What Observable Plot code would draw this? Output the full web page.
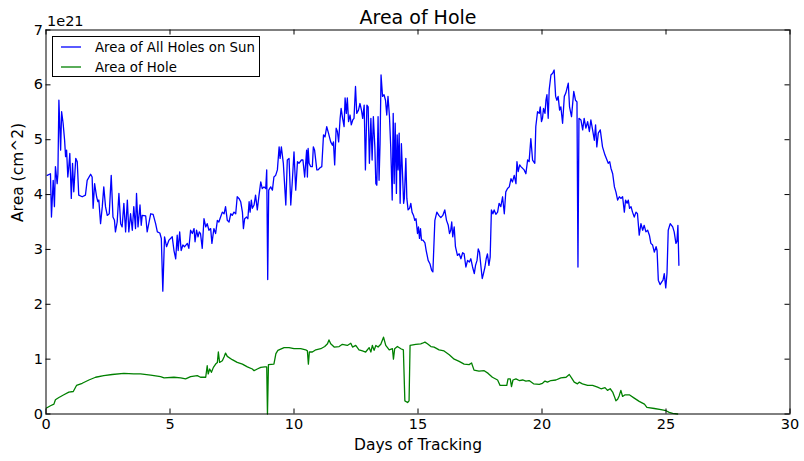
<!DOCTYPE html>
<html>
<head>
<meta charset="utf-8">
<script src="https://cdn.jsdelivr.net/npm/d3@7"></script>
<script src="https://cdn.jsdelivr.net/npm/@observablehq/plot@0.6"></script>
<style>
  html, body { margin: 0; padding: 0; background: #fff; }
  #chart { width: 804px; height: 461px; }
</style>
</head>
<body>
<div id="chart"></div>
<script>
// ---------- DATA (areas in units of 1e21 cm^2) ----------
const chartTitle = "Area of Hole";
const xLabel = "Days of Tracking";
const yLabel = "Area (cm^2)";
const yExponentLabel = "1e21";
const seriesNames = ["Area of All Holes on Sun", "Area of Hole"];
const seriesColors = ["#0000ff", "#008000"];
const xTicks = [0, 5, 10, 15, 20, 25, 30];
const yTicks = [0, 1, 2, 3, 4, 5, 6, 7];

// [day, area] for all holes on the sun
const allHolesSeries = [
[0.05,4.35],[0.18,4.38],[0.22,3.59],[0.29,4.26],[0.34,3.78],[0.38,4.51],[0.45,4.20],[0.48,4.38],[0.52,5.72],[0.59,4.81],
[0.63,5.51],[0.69,5.30],[0.75,4.99],[0.79,4.69],[0.83,4.81],[0.88,4.32],[0.92,4.51],[0.96,4.75],[1.02,3.93],[1.07,4.57],
[1.12,4.05],[1.20,4.66],[1.26,4.60],[1.32,3.99],[1.46,3.96],[1.59,3.99],[1.66,4.26],[1.80,4.37],[1.86,4.32],[1.90,3.75],
[1.96,4.20],[2.04,3.96],[2.09,3.87],[2.13,3.90],[2.20,3.47],[2.27,3.78],[2.33,4.14],[2.40,3.78],[2.47,3.62],[2.55,3.65],
[2.63,4.35],[2.70,3.59],[2.76,3.53],[2.80,3.32],[2.87,3.50],[2.94,4.02],[3.01,3.47],[3.07,3.41],[3.14,3.84],[3.21,3.32],
[3.28,3.90],[3.34,3.32],[3.41,3.65],[3.48,3.35],[3.54,3.78],[3.61,3.38],[3.65,4.02],[3.71,3.41],[3.79,3.81],[3.84,3.44],
[3.88,3.62],[4.02,3.61],[4.08,3.32],[4.22,3.65],[4.32,3.64],[4.42,3.47],[4.49,3.32],[4.59,3.30],[4.65,3.20],[4.71,2.24],
[4.78,3.23],[4.86,3.05],[4.96,3.17],[5.09,3.23],[5.16,2.98],[5.23,2.83],[5.29,3.26],[5.33,2.98],[5.39,3.32],[5.45,2.98],
[5.52,3.08],[5.59,3.05],[5.70,3.11],[5.76,3.02],[5.83,3.35],[5.90,3.29],[5.97,3.38],[6.01,3.14],[6.07,3.35],[6.13,3.23],
[6.18,3.32],[6.23,3.29],[6.30,3.02],[6.37,3.56],[6.44,3.41],[6.50,3.47],[6.57,3.35],[6.64,3.38],[6.69,3.11],[6.77,3.38],
[6.84,3.29],[6.91,3.53],[6.97,3.50],[7.04,3.59],[7.11,3.68],[7.18,3.65],[7.24,3.78],[7.31,3.53],[7.38,3.50],[7.45,3.65],
[7.51,3.62],[7.58,3.68],[7.65,3.65],[7.71,3.96],[7.78,3.93],[7.85,3.87],[7.92,3.68],[7.96,3.38],[8.01,3.56],[8.09,3.59],
[8.14,3.56],[8.19,3.87],[8.23,3.68],[8.28,3.90],[8.32,3.75],[8.39,3.81],[8.45,3.99],[8.52,3.72],[8.59,3.99],[8.66,4.23],
[8.72,4.11],[8.79,4.14],[8.86,4.11],[8.90,4.45],[8.94,2.45],[8.98,4.08],[9.06,4.14],[9.13,4.08],[9.19,4.32],[9.26,4.35],
[9.33,4.45],[9.40,4.87],[9.44,4.66],[9.49,4.87],[9.57,4.57],[9.67,3.81],[9.73,4.63],[9.80,4.66],[9.87,3.81],[9.93,4.23],
[10.00,4.78],[10.07,4.08],[10.14,4.60],[10.20,4.57],
[10.30,4.63],[10.36,4.63],[10.43,4.32],[10.51,4.81],[10.54,4.32],[10.57,4.84],[10.61,4.57],[10.67,4.51],[10.74,4.51],[10.78,4.87],
[10.83,4.81],[10.92,4.45],[10.97,4.45],[11.05,4.49],[11.12,4.51],[11.19,5.09],[11.25,5.05],[11.32,5.24],[11.39,5.12],[11.48,4.96],
[11.55,4.90],[11.59,4.96],[11.64,4.54],[11.70,5.21],[11.75,5.15],[11.80,4.96],[11.86,5.39],[11.90,5.57],[11.96,5.39],[12.02,5.24],
[12.06,5.76],[12.11,5.48],[12.15,5.76],[12.20,5.33],[12.26,5.45],[12.31,5.27],[12.37,5.36],[12.42,5.39],[12.48,5.97],[12.53,5.48],
[12.60,5.54],[12.66,5.66],[12.72,5.54],[12.77,5.39],[12.83,5.63],[12.88,4.45],[12.94,5.63],[12.99,5.60],[13.04,4.57],[13.10,5.39],
[13.15,4.63],[13.20,5.42],[13.26,4.87],[13.30,4.20],[13.34,4.17],[13.39,5.42],[13.43,4.26],[13.47,4.93],[13.51,6.18],[13.57,5.79],
[13.63,5.82],[13.69,5.72],[13.74,5.45],[13.79,5.79],[13.85,5.42],[13.90,4.87],[13.96,3.90],[14.00,5.48],[14.04,4.20],[14.08,5.30],
[14.13,4.02],[14.16,5.09],[14.20,4.45],[14.24,5.12],[14.28,3.84],[14.33,4.93],[14.37,4.45],[14.42,3.84],[14.45,3.93],[14.51,4.66],
[14.55,3.93],[14.60,3.72],[14.66,3.75],[14.71,3.84],[14.76,3.68],[14.82,3.62],[14.87,3.53],[14.92,3.56],[14.98,3.29],[15.02,3.41],
[15.06,3.20],[15.10,3.38],[15.14,3.17],[15.20,3.17],[15.28,3.12],[15.33,2.98],[15.41,2.80],[15.48,2.74],[15.55,2.62],[15.60,2.59],
[15.68,3.53],[15.76,3.68],[15.84,3.62],[15.92,3.58],[16.00,3.62],[16.08,3.72],[16.15,3.53],[16.22,3.44],[16.27,3.29],[16.32,3.35],
[16.36,3.50],[16.40,3.23],[16.46,3.41],[16.51,3.05],[16.59,2.89],[16.66,2.92],[16.73,2.83],[16.80,2.94],[16.86,2.92],[16.93,2.68],
[17.00,2.80],[17.07,2.77],[17.13,2.83],[17.20,2.68],[17.27,2.56],[17.32,2.71],[17.38,2.80],[17.43,3.01],[17.48,2.95],[17.54,2.68],
[17.59,2.47],[17.64,2.56],[17.70,2.68],[17.75,2.83],[17.80,2.92],[17.86,2.71],[17.91,2.86],[17.96,3.72],[18.02,3.65],[18.07,3.72],
[18.14,3.64],[18.21,3.68],[18.27,3.84],[18.34,3.78],[18.41,3.96],[18.48,3.65],[18.54,4.05],[18.61,4.11],[18.68,4.14],[18.75,4.29],
[18.81,4.23],[18.88,4.35],[18.95,4.20],[18.99,4.60],[19.04,4.42],[19.10,4.54],
[19.15,4.51],[19.28,4.45],[19.35,4.38],[19.42,4.63],[19.48,4.60],[19.55,5.02],[19.62,4.63],[19.71,4.57],[19.75,5.24],[19.82,5.51],
[19.89,5.48],[19.93,5.60],[19.98,5.33],[20.02,5.39],[20.06,5.57],[20.12,5.48],[20.16,5.72],[20.20,5.82],[20.25,5.39],[20.29,5.91],
[20.36,6.18],[20.43,6.21],[20.49,6.27],[20.55,5.79],[20.60,5.72],[20.65,5.79],[20.71,5.54],[20.76,5.60],[20.83,5.30],[20.90,5.79],
[20.96,5.85],[21.06,6.03],[21.11,5.60],[21.19,5.42],[21.28,5.88],[21.35,5.72],[21.41,5.69],[21.45,2.68],[21.49,5.39],[21.57,5.36],
[21.64,5.18],[21.70,5.39],[21.77,5.21],[21.84,5.33],[21.91,5.15],[21.97,5.36],[22.04,5.18],[22.11,4.99],[22.16,5.27],[22.21,4.87],
[22.27,5.12],[22.35,5.18],[22.44,4.87],[22.54,4.72],[22.62,4.63],[22.67,4.57],[22.73,4.60],[22.78,4.48],[22.85,4.38],[22.92,4.14],
[22.98,4.05],[23.05,3.90],[23.12,3.96],[23.18,3.93],[23.25,3.96],[23.32,3.68],[23.37,3.90],[23.43,3.84],[23.48,3.90],[23.53,3.75],
[23.59,3.78],[23.65,3.68],[23.72,3.59],[23.79,3.68],[23.85,3.65],[23.92,3.26],[23.99,3.47],[24.06,3.35],[24.12,3.44],[24.19,3.32],
[24.26,3.35],[24.33,3.26],[24.39,3.11],[24.46,3.08],[24.53,2.95],[24.60,3.05],[24.64,2.98],[24.69,2.44],[24.76,2.36],[24.83,2.41],
[24.88,2.44],[24.93,2.56],[24.99,2.30],[25.04,2.56],[25.09,3.35],[25.17,3.47],[25.27,3.41],[25.33,3.32],[25.40,3.11],[25.44,3.14],
[25.48,3.44],[25.52,2.71]
];

// [day, area] for the tracked hole
const trackedHoleSeries = [
[0.02,0.11],[0.18,0.15],[0.32,0.18],[0.38,0.26],[0.52,0.30],[0.72,0.35],[0.92,0.40],[1.10,0.41],[1.23,0.52],[1.46,0.56],
[1.73,0.62],[2.00,0.67],[2.33,0.70],[2.67,0.72],[3.14,0.74],[3.54,0.73],[3.81,0.73],[4.22,0.71],[4.62,0.68],[4.76,0.66],
[5.16,0.67],[5.43,0.66],[5.63,0.64],[5.83,0.68],[6.10,0.70],[6.23,0.67],[6.44,0.67],[6.50,0.88],[6.54,0.73],[6.60,0.82],
[6.67,0.76],[6.75,0.85],[6.84,0.91],[6.91,0.94],[6.95,1.13],[7.00,0.94],[7.11,0.97],[7.18,1.04],[7.24,1.11],[7.31,1.05],
[7.51,0.99],[7.71,0.94],[7.92,0.91],[8.12,0.86],[8.32,0.82],[8.39,0.79],[8.52,0.82],[8.66,0.85],[8.82,0.86],[8.90,0.86],
[8.93,0.00],[8.97,0.90],[9.19,0.91],[9.27,1.10],[9.35,1.16],[9.60,1.21],[9.80,1.21],[10.00,1.19],[10.27,1.19],[10.47,1.17],
[10.54,1.15],[10.58,0.91],[10.62,1.13],[10.74,1.13],[10.88,1.17],[11.08,1.19],[11.24,1.23],[11.35,1.28],[11.41,1.35],[11.48,1.28],
[11.62,1.22],[11.82,1.23],[11.95,1.27],[12.15,1.25],[12.29,1.29],[12.36,1.22],[12.49,1.25],[12.62,1.17],[12.76,1.15],[12.89,1.13],
[13.03,1.21],[13.10,1.13],[13.16,1.25],[13.23,1.16],[13.30,1.25],[13.39,1.22],[13.50,1.27],[13.61,1.40],[13.70,1.25],[13.84,1.17],
[13.97,1.19],[14.01,1.00],[14.06,1.19],[14.17,1.23],[14.31,1.19],[14.41,1.17],[14.47,0.24],[14.58,0.21],[14.64,0.24],[14.68,1.25],
[14.91,1.27],[15.11,1.28],[15.18,1.29],[15.28,1.31],[15.38,1.28],[15.52,1.23],[15.65,1.22],[15.85,1.17],[16.05,1.15],[16.26,1.08],
[16.46,1.00],[16.66,0.96],[16.86,0.91],[17.06,0.90],[17.16,0.93],[17.26,0.80],[17.46,0.78],[17.67,0.79],[17.83,0.74],[18.00,0.67],
[18.21,0.62],[18.31,0.52],[18.58,0.52],[18.63,0.64],[18.72,0.64],[18.77,0.50],[18.83,0.62],[18.95,0.64],[19.08,0.61],[19.22,0.62],
[19.35,0.60],[19.48,0.61],[19.66,0.55],[19.89,0.54],[20.02,0.56],[20.12,0.60],[20.22,0.58],[20.36,0.61],[20.56,0.62],[20.76,0.66],
[20.97,0.67],[21.10,0.72],[21.19,0.66],[21.30,0.58],[21.43,0.55],[21.50,0.58],[21.63,0.55],[21.84,0.52],[22.04,0.52],[22.24,0.49],
[22.38,0.46],[22.54,0.48],[22.64,0.43],[22.75,0.46],[22.85,0.40],[22.91,0.33],[22.98,0.24],[23.05,0.27],[23.11,0.33],[23.18,0.43],
[23.25,0.32],[23.35,0.35],[23.52,0.35],[23.72,0.29],[23.92,0.23],[24.13,0.18],[24.23,0.12],[24.53,0.10],[24.80,0.08],[25.00,0.06],
[25.13,0.03],[25.27,0.01],[25.47,0.00]
];

// ---------- CHART ----------
const W = 804, H = 461;
const mTop = 29.5, mRight = 14.5, mBottom = 47.5, mLeft = 45.5;
const plotW = W - mLeft - mRight, plotH = H - mTop - mBottom;
const tickLen = 5;
const font = "DejaVu Sans";

const toRows = (series, name) => series.map(([day, area]) => ({day, area, name}));
const rows = [...toRows(allHolesSeries, seriesNames[0]), ...toRows(trackedHoleSeries, seriesNames[1])];

const chart = Plot.plot({
  width: W,
  height: H,
  marginTop: mTop,
  marginRight: mRight,
  marginBottom: mBottom,
  marginLeft: mLeft,
  style: {fontFamily: font, fontSize: "14.5px", background: "white", color: "black", overflow: "visible"},
  x: {domain: [0, 30], ticks: xTicks},
  y: {domain: [0, 7], ticks: yTicks},
  color: {domain: seriesNames, range: seriesColors},
  marks: [
    Plot.line(rows, {x: "day", y: "area", z: "name", stroke: "name", strokeWidth: 1.3}),
    Plot.frame({stroke: "black", strokeWidth: 1}),
    // inward ticks on all four sides
    Plot.ruleX(xTicks, {x: d => d, stroke: "black", insetTop: plotH - tickLen}),
    Plot.ruleX(xTicks, {x: d => d, stroke: "black", insetBottom: plotH - tickLen}),
    Plot.ruleY(yTicks, {y: d => d, stroke: "black", insetRight: plotW - tickLen}),
    Plot.ruleY(yTicks, {y: d => d, stroke: "black", insetLeft: plotW - tickLen}),
    Plot.axisX({ticks: xTicks, tickSize: 0, tickPadding: 5, label: null, fontSize: 14.5, tickFormat: d => String(d)}),
    Plot.axisY({ticks: yTicks, tickSize: 0, tickPadding: 3, label: null, fontSize: 14.5, tickFormat: d => String(d)}),
    Plot.text([chartTitle], {text: d => d, frameAnchor: "top", dy: -12.5, fontSize: 19, lineAnchor: "middle"}),
    Plot.text([yExponentLabel], {text: d => d, frameAnchor: "top-left", textAnchor: "start", dy: -9, dx: 1, fontSize: 14.5, lineAnchor: "middle"}),
    Plot.text([xLabel], {text: d => d, frameAnchor: "bottom", dy: 31, fontSize: 15.5, lineAnchor: "middle"}),
    Plot.text([yLabel], {text: d => d, frameAnchor: "left", dx: -27.5, rotate: -90, fontSize: 15.5, lineAnchor: "middle"})
  ]
});
document.getElementById("chart").appendChild(chart);

// legend (upper-left, matplotlib style)
const svg = d3.select(chart);
const lg = svg.append("g")
  .attr("font-family", font)
  .attr("font-size", 13.3)
  .attr("text-anchor", "start");
lg.append("rect")
  .attr("x", 52.5).attr("y", 36.5).attr("width", 207).attr("height", 40)
  .attr("fill", "white").attr("stroke", "black").attr("stroke-width", 1);
seriesNames.forEach((name, i) => {
  const yy = 47 + i * 20;
  lg.append("line").attr("x1", 61).attr("x2", 81).attr("y1", yy).attr("y2", yy)
    .attr("stroke", seriesColors[i]).attr("stroke-width", 1.3);
  lg.append("text").attr("x", 95).attr("y", yy).attr("dy", "0.35em")
    .attr("text-anchor", "start").attr("fill", "black").text(name);
});
</script>
</body>
</html>
